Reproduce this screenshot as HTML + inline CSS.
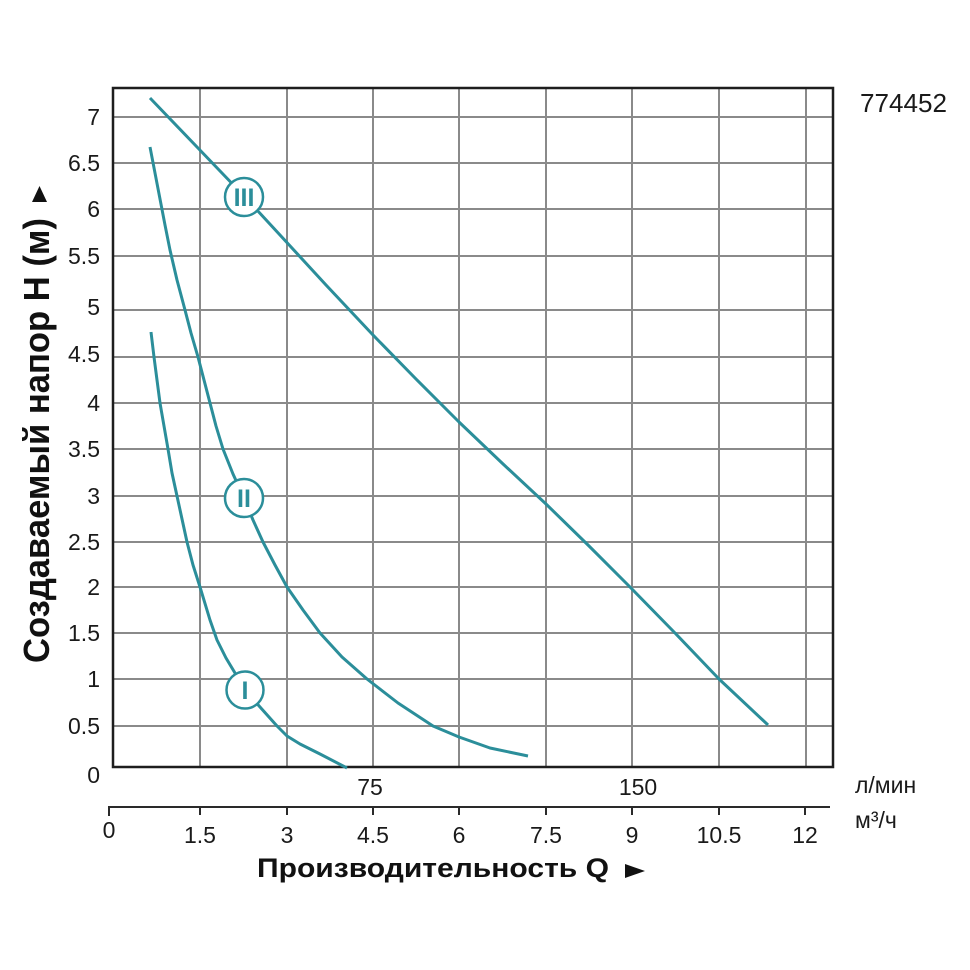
<!DOCTYPE html>
<html>
<head>
<meta charset="utf-8">
<style>
  html,body{margin:0;padding:0;background:#fff;}
  svg{display:block;}
  text{font-family:"Liberation Sans", Arial, sans-serif;}
</style>
</head>
<body>
<svg width="970" height="970" viewBox="0 0 970 970" xmlns="http://www.w3.org/2000/svg">
  <rect x="0" y="0" width="970" height="970" fill="#fff"/>

  <!-- horizontal gridlines -->
  <g stroke="#8a8a8a" stroke-width="2" fill="none">
    <line x1="113" y1="117" x2="833" y2="117"/>
    <line x1="113" y1="163" x2="833" y2="163"/>
    <line x1="113" y1="209" x2="833" y2="209"/>
    <line x1="113" y1="256" x2="833" y2="256"/>
    <line x1="113" y1="310" x2="833" y2="310"/>
    <line x1="113" y1="357" x2="833" y2="357"/>
    <line x1="113" y1="403" x2="833" y2="403"/>
    <line x1="113" y1="449" x2="833" y2="449"/>
    <line x1="113" y1="496" x2="833" y2="496"/>
    <line x1="113" y1="542" x2="833" y2="542"/>
    <line x1="113" y1="587" x2="833" y2="587"/>
    <line x1="113" y1="633" x2="833" y2="633"/>
    <line x1="113" y1="679" x2="833" y2="679"/>
    <line x1="113" y1="726" x2="833" y2="726"/>
    <!-- vertical gridlines -->
    <line x1="200" y1="88" x2="200" y2="767"/>
    <line x1="287" y1="88" x2="287" y2="767"/>
    <line x1="373" y1="88" x2="373" y2="767"/>
    <line x1="459" y1="88" x2="459" y2="767"/>
    <line x1="546" y1="88" x2="546" y2="767"/>
    <line x1="632" y1="88" x2="632" y2="767"/>
    <line x1="719" y1="88" x2="719" y2="767"/>
    <line x1="806" y1="88" x2="806" y2="767"/>
  </g>

  <!-- plot border -->
  <rect x="113" y="88" width="720" height="679" fill="none" stroke="#1e1e1e" stroke-width="2.5"/>

  <!-- secondary axis -->
  <g stroke="#2a2a2a" stroke-width="2">
    <line x1="108" y1="807" x2="830" y2="807"/>
    <line x1="109" y1="806" x2="109" y2="816"/>
    <line x1="200" y1="806" x2="200" y2="815"/>
    <line x1="287" y1="806" x2="287" y2="815"/>
    <line x1="373" y1="806" x2="373" y2="815"/>
    <line x1="459" y1="806" x2="459" y2="815"/>
    <line x1="546" y1="806" x2="546" y2="815"/>
    <line x1="632" y1="806" x2="632" y2="815"/>
    <line x1="719" y1="806" x2="719" y2="815"/>
    <line x1="805" y1="806" x2="805" y2="815"/>
  </g>

  <!-- curves -->
  <g stroke="#2b8e9a" stroke-width="3" fill="none" stroke-linejoin="round" stroke-linecap="butt">
    <polyline points="150,98 197,147 244,196 280,235 326,285 373,335 416,379 459,422 502,463 546,504 588,545 630,587 675,633 719,679 768,725"/>
    <polyline points="150,147 155,173 160,199 165,225 170,250 177,280 185,310 191,333 198,357 204,380 210,403 216,426 223,449 233,474 244,498 253,520 263,542 275,565 287,587 303,610 320,633 342,657 367,679 398,703 433,726 459,737 490,748 528,756"/>
    <polyline points="151,332 154,357 157,380 160,403 164,426 168,449 172,473 177,496 182,519 187,542 193,565 200,587 210,620 217,640 226,658 235,673 245,690 260,707 277,726 287,736 300,744 320,754 347,768"/>
  </g>

  <!-- circle labels -->
  <g stroke="#2b8e9a" stroke-width="2.5" fill="#fff">
    <circle cx="244" cy="197" r="19"/>
    <circle cx="244" cy="498" r="19"/>
    <circle cx="245" cy="690" r="18.5"/>
  </g>
  <g fill="#2b8e9a" font-weight="bold" font-size="25" text-anchor="middle">
    <text x="244" y="206">III</text>
    <text x="244" y="507">II</text>
    <text x="245" y="699">I</text>
  </g>

  <!-- y tick labels -->
  <g fill="#1a1a1a" font-size="23" text-anchor="end">
    <text x="100" y="125">7</text>
    <text x="100" y="171">6.5</text>
    <text x="100" y="217">6</text>
    <text x="100" y="264">5.5</text>
    <text x="100" y="315">5</text>
    <text x="100" y="362">4.5</text>
    <text x="100" y="411">4</text>
    <text x="100" y="457">3.5</text>
    <text x="100" y="504">3</text>
    <text x="100" y="550">2.5</text>
    <text x="100" y="595">2</text>
    <text x="100" y="641">1.5</text>
    <text x="100" y="687">1</text>
    <text x="100" y="734">0.5</text>
    <text x="100" y="783">0</text>
  </g>

  <!-- x tick labels -->
  <g fill="#1a1a1a" font-size="23" text-anchor="middle">
    <text x="109" y="838">0</text>
    <text x="200" y="843">1.5</text>
    <text x="287" y="843">3</text>
    <text x="373" y="843">4.5</text>
    <text x="459" y="843">6</text>
    <text x="546" y="843">7.5</text>
    <text x="632" y="843">9</text>
    <text x="719" y="843">10.5</text>
    <text x="805" y="843">12</text>
    <text x="370" y="795">75</text>
    <text x="638" y="795">150</text>
  </g>
  <g fill="#1a1a1a" font-size="23">
    <text x="855" y="793">л/мин</text>
    <text x="855" y="828">м³/ч</text>
    <text x="860" y="112" font-size="26" textLength="87" lengthAdjust="spacingAndGlyphs">774452</text>
  </g>

  <!-- x title -->
  <text x="257" y="877" font-size="27" font-weight="bold" fill="#111" textLength="352" lengthAdjust="spacingAndGlyphs">Производительность Q</text>
  <polygon points="625,864 625,878 645,871" fill="#111"/>

  <!-- y title -->
  <text transform="translate(49,663) rotate(-90)" x="0" y="0" font-size="36" font-weight="bold" fill="#111" textLength="445" lengthAdjust="spacingAndGlyphs">Создаваемый напор H (м)</text>
  <polygon points="32,202 47,202 39.5,186" fill="#111"/>
</svg>
</body>
</html>
